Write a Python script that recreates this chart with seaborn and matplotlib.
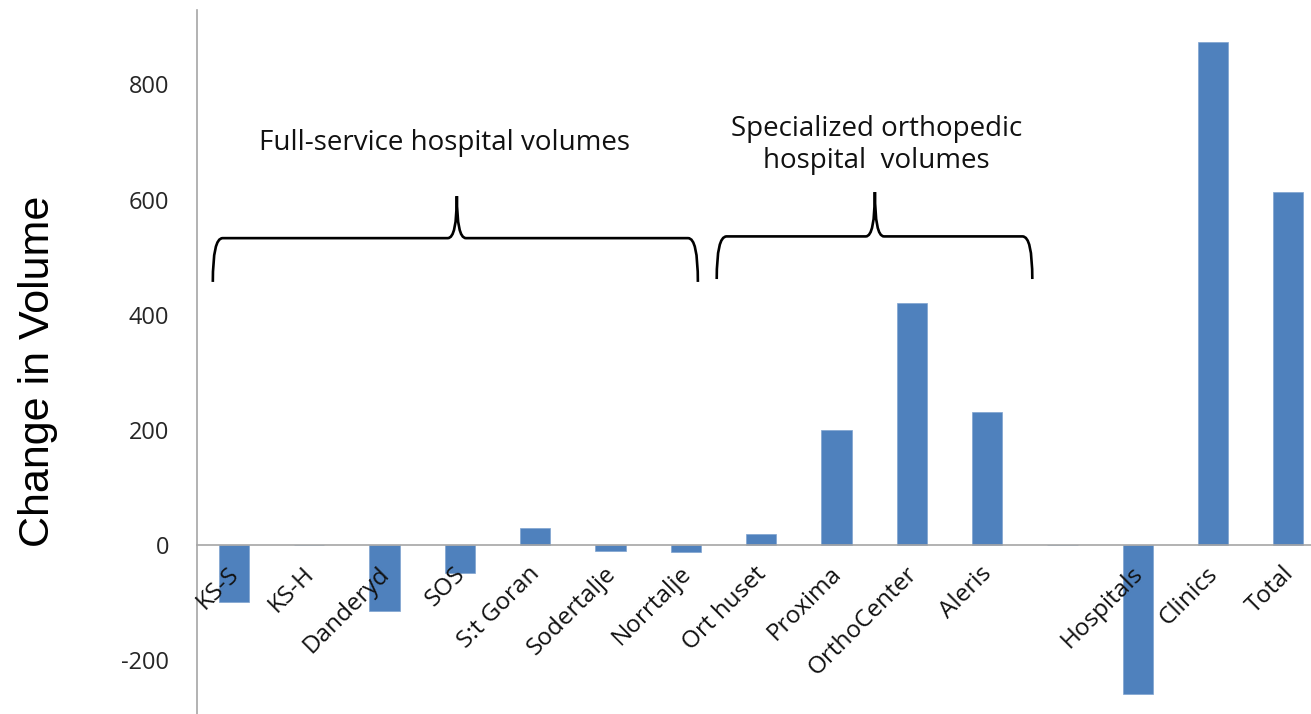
import numpy as np
import pandas as pd
import seaborn as sns
import matplotlib.pyplot as plt
import matplotlib.transforms as mtransforms
from matplotlib.path import Path
from matplotlib.patches import PathPatch

# values
units = ["KS-S", "KS-H", "Danderyd", "SOS", "S:t Goran", "Sodertalje", "Norrtalje",
         "Ort huset", "Proxima", "OrthoCenter", "Aleris", " ", "Hospitals", "Clinics", "Total"]
changes = [-99, 0, -115, -49, 29, -10, -12, 20, 200, 420, 231, 0, -258, 873, 613]
y_ticks = [-200, 0, 200, 400, 600, 800]

group_labels = ["Full-service hospital volumes", "Specialized orthopedic\nhospital  volumes"]

df = pd.DataFrame({"unit": units, "change": changes})

sns.set_style("white")
plt.rcParams["font.family"] = ["Open Sans", "DejaVu Sans"]
plt.rcParams["axes.unicode_minus"] = False

gray = "#A6A6A6"
blue = "#4F81BD"

fig = plt.figure(figsize=(13.11, 7.14), dpi=100)
ax = fig.add_axes([197 / 1311, 0, 1 - 197 / 1311, 704 / 714])

sns.barplot(data=df, x="unit", y="change", order=units, color=blue,
            saturation=1, width=0.4, ax=ax, edgecolor="#7FA3CF", linewidth=0.5)

ax.set_xlim(-0.49, 14.30)
ax.set_ylim(-293, 929)
ax.set_yticks(y_ticks)
ax.set_xlabel("")
ax.set_ylabel("")
ax.set_axisbelow(False)

for side in ["top", "right"]:
    ax.spines[side].set_visible(False)
ax.spines["bottom"].set_position(("data", 0))
ax.spines["bottom"].set_color(gray)
ax.spines["left"].set_color(gray)
ax.spines["bottom"].set_linewidth(1.2)
ax.spines["left"].set_linewidth(1.2)

ax.set_xticks(np.arange(len(units)))
ax.set_xticks(np.arange(0.5, len(units) - 1, 1), minor=True)
ax.tick_params(axis="x", which="major", length=0, pad=12)
ax.tick_params(axis="x", which="minor", length=7, width=1.2, color=gray, direction="out")
ax.tick_params(axis="y", length=7, width=1.2, color=gray, direction="out", pad=13,
               labelsize=17, labelcolor="#262626")

ax.set_xticklabels(units, rotation=45, ha="right", va="top", rotation_mode="anchor",
                   fontsize=17.5, color="#111111")
shift = mtransforms.ScaledTranslation(-0.07, 0, fig.dpi_scale_trans)
for lab in ax.get_xticklabels():
    lab.set_transform(lab.get_transform() + shift)


def brace(x0, x1, xm, y_end, y_h, y_peak):
    dx = 0.13
    dm = 0.12
    verts = [(x0, y_end), (x0, y_h), (x0 + dx, y_h),
             (xm - dm, y_h), (xm, y_h), (xm, y_peak),
             (xm, y_h), (xm + dm, y_h),
             (x1 - dx, y_h), (x1, y_h), (x1, y_end)]
    codes = [Path.MOVETO, Path.CURVE3, Path.CURVE3,
             Path.LINETO, Path.CURVE3, Path.CURVE3,
             Path.CURVE3, Path.CURVE3,
             Path.LINETO, Path.CURVE3, Path.CURVE3]
    ax.add_patch(PathPatch(Path(verts, codes), fill=False, lw=1.9, color="black",
                           clip_on=False))


brace(-0.28, 6.16, 2.96, 457, 533, 606)
brace(6.41, 10.60, 8.51, 462, 536, 613)

ax.text(2.80, 698, group_labels[0], ha="center", va="center", fontsize=20, color="#111111")
ax.text(8.53, 695, group_labels[1], ha="center", va="center", fontsize=20, color="#111111",
        linespacing=1.2)

fig.text(38 / 1311, 1 - 371 / 714, "Change in Volume", rotation=90, ha="center", va="center",
         fontsize=31, family=["Liberation Sans", "DejaVu Sans"], color="black")

fig.savefig("out.png", dpi=100)
